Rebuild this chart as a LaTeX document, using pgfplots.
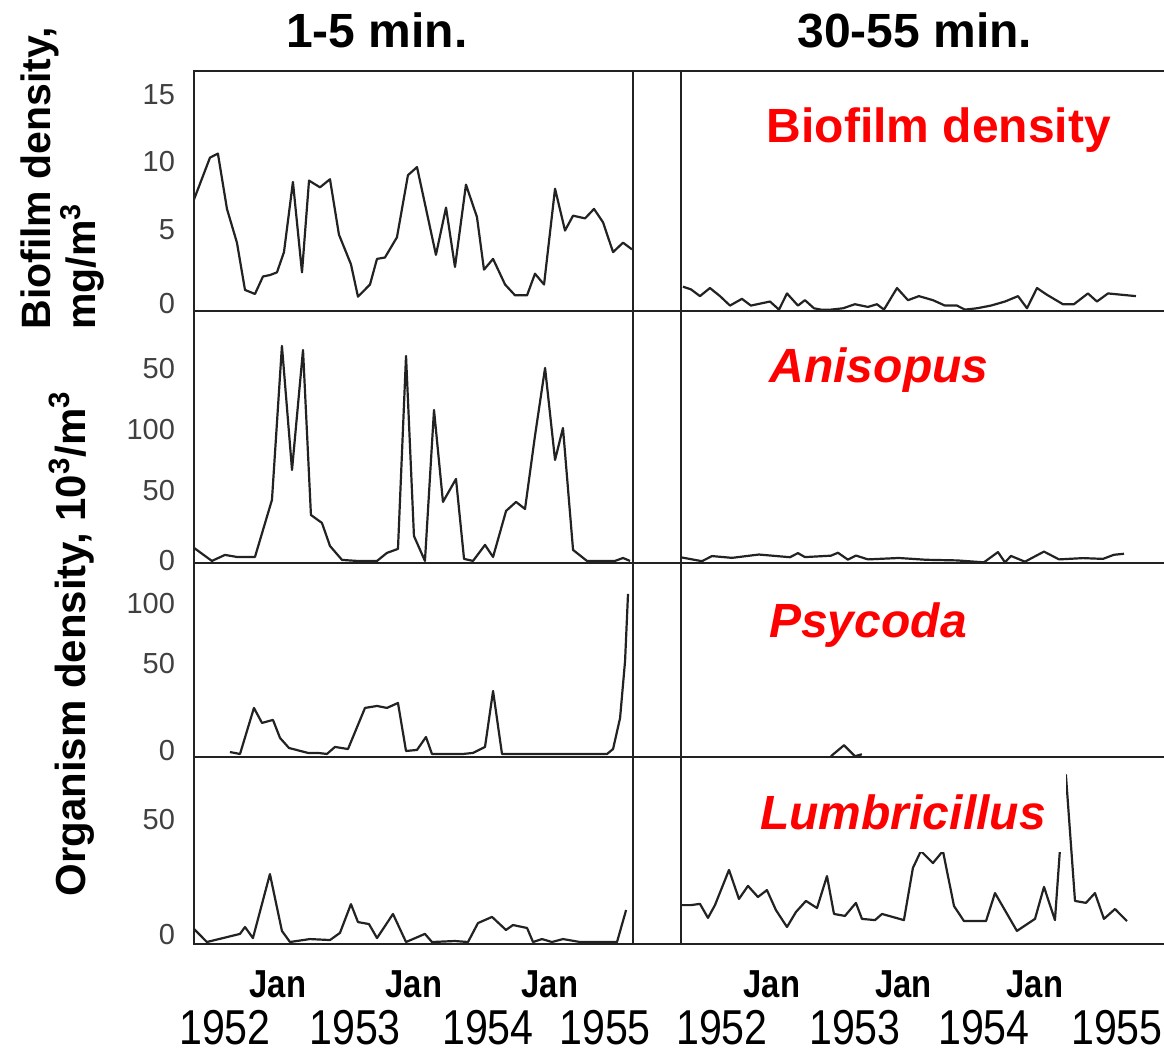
\documentclass[border=0pt]{standalone}
\usepackage{fontspec}
\setmainfont{Liberation Sans}
\newfontfamily\narrowfont{Liberation Sans}[FakeStretch=0.84]
\usepackage{pgfplots}
\pgfplotsset{compat=1.18}
\definecolor{ink}{HTML}{222222}
\definecolor{lab}{HTML}{FF0000}
\newcommand{\yr}[1]{{\narrowfont\mdseries\fontsize{24.5}{28}\selectfont #1}}
\pgfplotsset{
  dl/.style={draw=ink, line width=1.1pt, mark=none, line join=round},
  base/.style={scale only axis, clip=true, major tick length=0pt, tick style={draw=none},
    xtick=\empty, axis line style={line width=1pt, draw=ink},
    /pgf/number format/assume math mode=true,
    yticklabel style={font=\fontsize{14.5}{16}\selectfont, text=black!75, xshift=-6pt}},
  L/.style={base, xmin=-7.41, xmax=31.33, width=219.5pt, at={(97pt,#1)}, anchor=south west},
  R/.style={base, xmin=-8.30, xmax=35.77, width=241.5pt, at={(340.5pt,#1)}, anchor=south west,
    axis lines=left, axis line style={-}, ytick=\empty},
  bottomrow/.style={xtick={0,12,24}, xticklabels={Jan,Jan,Jan},
    xticklabel style={font=\narrowfont\bfseries\fontsize{19.5}{22}\selectfont, text=black, yshift=-10pt},
    extra x ticks={#1}, extra x tick labels={\yr{1952},\yr{1953},\yr{1954},\yr{1955}},
    extra x tick style={tick label style={inner sep=0pt, yshift=-23pt}}},
}
\begin{document}
\begin{tikzpicture}
\useasboundingbox (0,0) rectangle (582pt,526pt);
% ---------- row 1 : biofilm density ----------
\begin{axis}[L=370.5pt, height=120pt, ymin=-0.96, ymax=16.82,
  ytick={-0.44,5.1,10.1,15.1}, yticklabels={0,5,10,15}]
\addplot[dl] table {
-7.41 7.3
-6.00 10.4
-5.30 10.7
-4.50 6.6
-3.62 4.1
-2.91 0.6
-2.03 0.3
-1.32 1.6
-0.71 1.7
-0.09 1.9
0.53 3.4
1.32 8.6
2.12 1.9
2.74 8.7
3.71 8.2
4.59 8.8
5.38 4.7
6.44 2.5
7.06 0.1
8.12 1.0
8.74 2.9
9.44 3.0
10.50 4.5
11.47 9.1
12.27 9.7
13.94 3.2
14.83 6.7
15.62 2.3
16.59 8.4
17.56 6.0
18.18 2.1
18.98 2.9
20.04 1.0
20.92 0.2
21.98 0.2
22.68 1.8
23.48 1.0
24.45 8.1
25.33 5.0
26.04 6.1
27.10 5.9
27.89 6.6
28.69 5.6
29.57 3.4
30.45 4.1
31.24 3.6
};
\end{axis}
\begin{axis}[R=370.5pt, height=120pt, ymin=-0.1, ymax=17.68]
\addplot[dl] table {
-8.12 1.7
-7.39 1.5
-6.57 1.0
-5.66 1.6
-4.74 1.0
-3.83 0.3
-2.74 0.8
-1.92 0.3
-0.18 0.6
0.64 0
1.37 1.2
2.37 0.3
3.01 0.7
3.83 0.1
4.47 0
5.38 0
6.48 0.1
7.57 0.4
8.76 0.2
9.58 0.4
10.22 0
11.41 1.6
12.41 0.7
13.41 1.0
14.69 0.7
15.78 0.3
16.88 0.3
17.61 0
18.70 0.1
19.98 0.3
21.26 0.6
22.45 1.0
23.27 0.1
24.18 1.6
25.09 1.1
26.55 0.4
27.55 0.4
28.83 1.2
29.65 0.6
30.66 1.2
33.21 1.0
};
\end{axis}
% ---------- row 2 : Anisopus ----------
\begin{axis}[L=244.5pt, height=126pt, ymin=-1.6, ymax=195.3,
  ytick={0,55.4,102.3,150.7}, yticklabels={0,50,100,50}]
\addplot[dl] table {
-7.41 10.2
-5.83 0
-4.68 4.7
-3.62 3.1
-2.03 3.1
-0.53 47.7
0.35 168
1.24 71.1
2.21 164.8
2.91 35.9
3.88 29.7
4.59 11.7
5.65 0.8
6.97 0
8.74 0
9.62 6.3
10.59 9.4
11.30 160.2
12.00 19.5
12.97 0
13.77 118
14.56 46.1
15.71 64.1
16.42 1.6
17.21 0
18.27 12.5
18.98 3.1
20.13 39.1
21.01 46.1
21.80 40.6
22.68 97.7
23.57 150.8
24.45 78.9
25.15 103.9
26.04 8.6
27.27 0
28.69 0
29.74 0
30.45 2.3
31.07 0
};
\end{axis}
\begin{axis}[R=244.5pt, height=126pt, ymin=-0.5, ymax=196.4]
\addplot[dl] table {
-8.30 3.9
-6.39 0.9
-5.47 4.9
-3.65 3.5
-1.19 6.1
1.64 4.0
2.37 7.2
3.01 4.1
5.38 5.2
6.02 7.5
6.93 2.1
7.66 5.3
8.76 2.3
11.59 3.4
14.05 2.0
16.88 1.5
19.34 0
20.62 8.0
21.26 0
21.81 5.0
23.08 0.5
24.82 8.4
26.19 2.3
28.38 3.3
30.20 2.7
31.20 5.9
32.12 6.7
};
\end{axis}
% ---------- row 3 : Psycoda ----------
\begin{axis}[L=147.5pt, height=97pt, ymin=-2, ymax=127.3,
  ytick={2,60,100}, yticklabels={0,50,100}]
\addplot[dl] table {
-4.24 1.3
-3.35 0
-2.12 30.7
-1.41 20.7
-0.44 22.7
0.18 10.7
0.97 4
2.65 0.7
3.53 0.7
4.32 0
5.03 4.7
6.18 3.3
7.68 30.7
8.74 32
9.62 30.7
10.59 34
11.30 2
12.27 2.7
13.06 11.3
13.59 0
15.45 0
16.33 0
17.21 0.7
18.27 4.7
18.98 42
19.77 0
20.74 0
29.04 0
29.57 3.3
30.19 24
30.63 62
30.89 106.7
};
\end{axis}
\begin{axis}[R=147.5pt, height=97pt, ymin=-0.5, ymax=128.8]
\addplot[dl] table {
5.38 0
6.57 7.3
7.57 0
8.21 1.3
};
\end{axis}
% ---------- row 4 : Lumbricillus ----------
\begin{axis}[L=54pt, height=93.5pt, ymin=-0.8, ymax=75.2,
  ytick={2.9,49.6}, yticklabels={0,50},
  bottomrow={-4.68,6.80,18.53,28.86}]
\addplot[dl] table {
-7.41 5.3
-6.27 0
-3.35 3.3
-2.91 6.1
-2.21 1.6
-0.71 27.6
0.35 4.5
1.06 0
2.82 1.2
4.59 0.8
5.47 3.7
6.44 15.4
7.06 8.1
8.03 7.3
8.74 1.6
10.15 11.4
11.30 0
12.97 3.3
13.59 0
15.62 0.4
16.77 0
17.65 7.7
18.89 10.2
20.12 4.9
20.74 6.9
21.98 5.7
22.51 0
23.30 1.2
24.18 0
25.15 1.2
26.65 0
28.16 0
29.92 0
30.72 13
};
\end{axis}
\begin{axis}[R=54pt, height=93.5pt, ymin=-0.4, ymax=75.6,
  bottomrow={-4.56,7.57,19.34,31.48}]
\addplot[dl] table {
-8.30 15.4
-7.39 15.4
-6.57 15.9
-5.84 10.2
-5.20 15.4
-3.92 29.7
-3.01 17.9
-2.19 23.2
-1.28 18.7
-0.46 21.5
0.36 13.4
1.37 6.5
2.19 12.6
3.10 17.1
4.11 14.2
5.02 27.2
5.66 11.8
6.66 11.0
7.66 16.3
8.21 9.8
9.40 9.3
10.04 11.8
12.04 9.3
12.86 30.5
13.59 37.4
14.69 32.5
15.60 37.4
16.61 15.0
17.52 8.9
19.53 8.9
20.35 20.3
22.35 4.9
24.00 9.8
24.82 22.8
25.82 9.3
26.28 38.2
26.82 68.3
27.65 17.1
28.65 16.3
29.47 20.3
30.29 9.8
31.30 13.8
32.39 8.9
};
\end{axis}
% ---------- frame pieces across the gap ----------
\draw[ink, line width=1pt] (316.5pt,490.5pt) -- (582pt,490.5pt);
\draw[ink, line width=1pt] (316.5pt,370.5pt) -- (340.5pt,370.5pt);
\draw[ink, line width=1pt] (316.5pt,244.5pt) -- (340.5pt,244.5pt);
\draw[ink, line width=1pt] (316.5pt,147.5pt) -- (340.5pt,147.5pt);
\draw[ink, line width=1pt] (316.5pt,54pt) -- (340.5pt,54pt);
% white box behind the Lumbricillus label
\fill[white] (356pt,100pt) rectangle (533pt,139pt);
% ---------- labels ----------
\node[anchor=base, font=\bfseries\fontsize{24}{28}\selectfont] at (188.5pt,502pt) {1-5 min.};
\node[anchor=base, font=\bfseries\fontsize{24}{28}\selectfont] at (457.5pt,502pt) {30-55 min.};
\node[anchor=base, text=lab, font=\bfseries\fontsize{24}{28}\selectfont] at (469.5pt,454.5pt) {Biofilm density};
\node[anchor=base, text=lab, font=\bfseries\itshape\fontsize{24}{28}\selectfont] at (439.5pt,334.5pt) {Anisopus};
\node[anchor=base, text=lab, font=\bfseries\itshape\fontsize{24}{28}\selectfont] at (434pt,207pt) {Psycoda};
\node[anchor=base, text=lab, font=\bfseries\itshape\fontsize{24}{28}\selectfont] at (451.5pt,111pt) {Lumbricillus};
\node[rotate=90, anchor=base west, inner sep=0pt, font=\bfseries\fontsize{20.5}{24}\selectfont] at (25pt,361pt) {Biofilm density,};
\node[rotate=90, anchor=base west, inner sep=0pt, font=\bfseries\fontsize{20.5}{24}\selectfont] at (48pt,361pt) {mg/m\textsuperscript{3}};
\node[rotate=90, anchor=base west, inner sep=0pt, font=\bfseries\fontsize{21}{24}\selectfont] at (42.5pt,77.5pt) {Organism density, 10\textsuperscript{3}/m\textsuperscript{3}};
\end{tikzpicture}
\end{document}
